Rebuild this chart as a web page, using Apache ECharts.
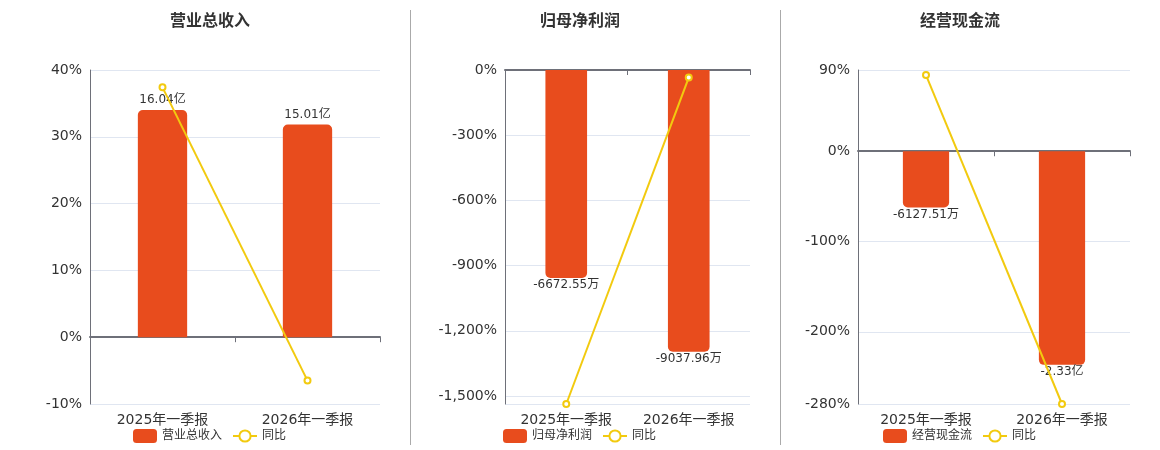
<!DOCTYPE html>
<html>
<head>
<meta charset="utf-8">
<script src="https://cdn.jsdelivr.net/npm/echarts@6/dist/echarts.min.js"></script>
<style>
  html, body { margin: 0; padding: 0; background: #fff; }
  #main { width: 1160px; height: 450px; }
</style>
</head>
<body>
<div id="main"></div>
<script>
// 数据（金额单位：万元，同比单位：%）
var categories = ['2025年一季报', '2026年一季报'];
var titles = ['营业总收入', '归母净利润', '经营现金流'];

var revenue = [160400, 150100];
var revenueYoy = [37.4, -6.5];

var netProfit = [-6672.55, -9037.96];
var netProfitYoy = [-1537, -35];

var cashFlow = [-6127.51, -23300];
var cashFlowYoy = [84.4, -280];

var amounts = [revenue, netProfit, cashFlow];
var yoys = [revenueYoy, netProfitYoy, cashFlowYoy];

var dom = document.getElementById('main');
var myChart = echarts.init(dom);

var FONT = '"DejaVu Sans", "Noto Sans CJK SC", sans-serif';
var BAR_COLOR = '#E84C1D';
var LINE_COLOR = '#F2CA0F';

// 每个面板的网格与坐标范围
var panels = [
    { left: 90,  width: 290, cx: 210, legendLeft: 133, pct: [-10, 40],   amt: [-47150, 188600] },
    { left: 505, width: 245, cx: 580, legendLeft: 503, pct: [-1537, 0],  amt: [-10716, 0] },
    { left: 858, width: 272, cx: 960, legendLeft: 883, pct: [-280, 90],  amt: [-27570, 8862] }
];

function fmtAmount(v) {
    if (Math.abs(v) >= 10000) {
        return (v / 10000).toFixed(2) + '亿';
    }
    return v.toFixed(2) + '万';
}

var grid = [], xAxis = [], yAxis = [], series = [], legend = [], graphic = [];

panels.forEach(function (p, i) {
    grid.push({ left: p.left, width: p.width, top: 70, height: 334 });

    // 零轴（随0移动）
    xAxis.push({
        type: 'category',
        gridIndex: i,
        data: categories,
        position: 'bottom',
        axisLine: { onZero: true, lineStyle: { color: '#6E7079', width: 2 } },
        axisTick: { show: true, lineStyle: { color: '#6E7079' } },
        axisLabel: { show: false },
        splitLine: { show: false }
    });
    // 底部标签
    xAxis.push({
        type: 'category',
        gridIndex: i,
        data: categories,
        position: 'bottom',
        axisLine: { show: false, onZero: false },
        axisTick: { show: false },
        axisLabel: { color: '#333', fontSize: 14, margin: 9, fontFamily: FONT },
        splitLine: { show: false }
    });

    yAxis.push({
        type: 'value',
        gridIndex: i,
        position: 'left',
        min: p.pct[0],
        max: p.pct[1],
        axisLine: { show: true, lineStyle: { color: '#6E7079' } },
        axisTick: { show: false },
        axisLabel: { formatter: '{value}%', color: '#333', fontSize: 14, fontFamily: FONT },
        splitLine: { lineStyle: { color: '#E0E6F1' } }
    });
    yAxis.push({
        type: 'value',
        gridIndex: i,
        position: 'right',
        show: false,
        min: p.amt[0],
        max: p.amt[1],
        splitLine: { show: false }
    });

    series.push({
        name: titles[i],
        type: 'bar',
        xAxisIndex: i * 2,
        yAxisIndex: i * 2 + 1,
        barWidth: '34%',
        itemStyle: { color: BAR_COLOR },
        data: amounts[i].map(function (v) {
            var neg = v < 0;
            return {
                value: v,
                itemStyle: { borderRadius: neg ? [0, 0, 5, 5] : [5, 5, 0, 0] },
                label: {
                    show: true,
                    position: neg ? 'bottom' : 'top',
                    distance: neg ? 1 : 4,
                    color: '#333',
                    fontSize: 12,
                    fontFamily: FONT,
                    formatter: function () { return fmtAmount(v); }
                }
            };
        })
    });
    series.push({
        name: '同比',
        type: 'line',
        xAxisIndex: i * 2,
        yAxisIndex: i * 2,
        symbol: 'emptyCircle',
        symbolSize: 6,
        lineStyle: { color: LINE_COLOR, width: 2 },
        itemStyle: { color: LINE_COLOR },
        data: yoys[i]
    });

    legend.push({
        left: p.legendLeft,
        top: 429,
        padding: 0,
        itemWidth: 24,
        itemHeight: 14,
        itemGap: 10,
        selectedMode: false,
        textStyle: { color: '#333', fontSize: 12, fontFamily: FONT },
        data: [{ name: titles[i], icon: 'roundRect' }, { name: '同比' }]
    });

    graphic.push({
        type: 'text',
        left: p.cx - 40,
        top: 14,
        style: {
            text: titles[i],
            fill: '#333',
            font: 'bold 16px ' + FONT
        }
    });
});

// 分隔线
[410.5, 780.5].forEach(function (x) {
    graphic.push({
        type: 'line',
        shape: { x1: x, y1: 10, x2: x, y2: 445 },
        style: { stroke: '#AAAAAA', lineWidth: 1 }
    });
});

option = {
    animation: false,
    textStyle: { fontFamily: FONT },
    grid: grid,
    xAxis: xAxis,
    yAxis: yAxis,
    legend: legend,
    graphic: graphic,
    series: series
};

myChart.setOption(option);
</script>
</body>
</html>
